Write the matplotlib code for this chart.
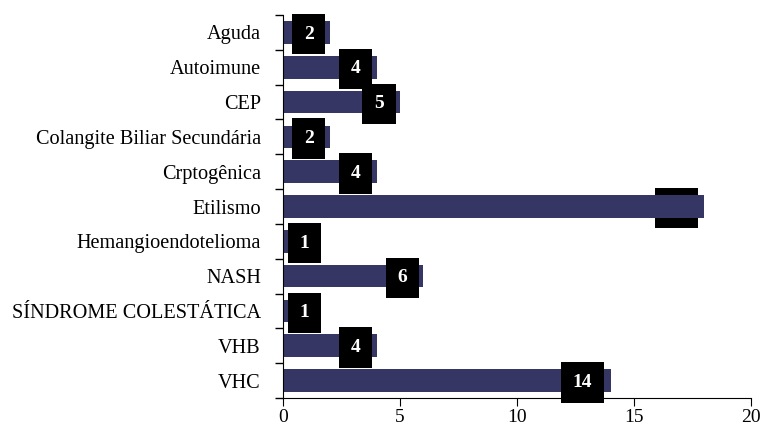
import matplotlib
matplotlib.use('Agg')
import matplotlib.pyplot as plt
import numpy as np

categories = ['Aguda', 'Autoimune', 'CEP', 'Colangite Biliar Secundária', 'Crptogênica',
              'Etilismo', 'Hemangioendotelioma', 'NASH', 'SÍNDROME COLESTÁTICA', 'VHB', 'VHC']
values = [2, 4, 5, 2, 4, 18, 1, 6, 1, 4, 14]
# labels drawn behind the bar (hidden by it)
hidden = ['Etilismo']

plt.rcParams['font.family'] = ['Liberation Serif', 'DejaVu Serif']

fig = plt.figure(figsize=(7.61, 4.28), dpi=100)
ax = fig.add_axes([0.372, 0.07, 0.615, 0.895])

y = np.arange(len(categories))
ax.barh(y, values, height=0.65, color='#363664', zorder=1)

for i, (cat, v) in enumerate(zip(categories, values)):
    xc = max(v - 0.9 - (0.3 if v >= 10 else 0), 0.9)
    z = 0.5 if cat in hidden else 3
    ax.text(xc, i + 0.05, str(v), ha='center', va='center', color='white',
            fontsize=14, fontweight='bold', zorder=z,
            bbox=dict(boxstyle='square,pad=0.6', facecolor='black', edgecolor='none'))

ax.set_ylim(len(categories) - 0.5, -0.5)
ax.set_xlim(0, 20)
ax.set_xticks([0, 5, 10, 15, 20])
ax.set_yticks(y)
ax.set_yticklabels(categories)
ax.set_yticks(np.arange(-0.5, len(categories), 1), minor=True)
ax.tick_params(axis='y', which='major', length=0, pad=16, labelsize=14.6)
ax.tick_params(axis='y', which='minor', length=6, width=1)
ax.tick_params(axis='x', length=6, labelsize=14, pad=2)
ax.spines['top'].set_visible(False)
ax.spines['right'].set_visible(False)

fig.savefig('out.png', dpi=100)
